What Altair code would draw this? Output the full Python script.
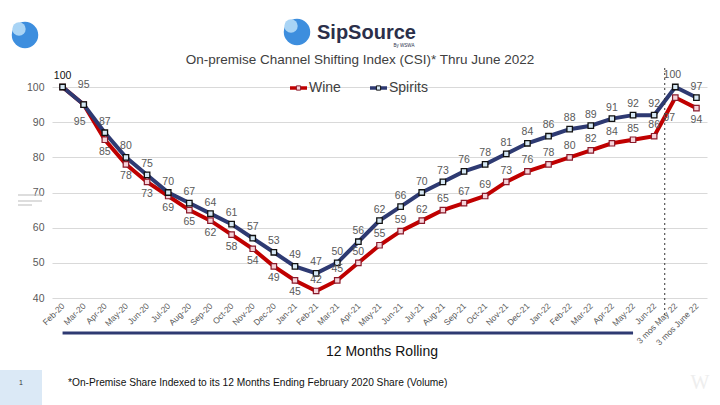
import altair as alt
import pandas as pd

months = ["Feb-20", "Mar-20", "Apr-20", "May-20", "Jun-20", "Jul-20", "Aug-20", "Sep-20",
          "Oct-20", "Nov-20", "Dec-20", "Jan-21", "Feb-21", "Mar-21", "Apr-21", "May-21",
          "Jun-21", "Jul-21", "Aug-21", "Sep-21", "Oct-21", "Nov-21", "Dec-21", "Jan-22",
          "Feb-22", "Mar-22", "Apr-22", "May-22", "Jun-22", "3 mos May 22", "3 mos June 22"]
spirits = [100, 95, 87, 80, 75, 70, 67, 64, 61, 57, 53, 49, 47, 50, 56, 62, 66, 70, 73, 76,
           78, 81, 84, 86, 88, 89, 91, 92, 92, 100, 97]
wine = [100, 95, 85, 78, 73, 69, 65, 62, 58, 54, 49, 45, 42, 45, 50, 55, 59, 62, 65, 67,
        69, 73, 76, 78, 80, 82, 84, 85, 86, 97, 94]
y_ticks = [40, 50, 60, 70, 80, 90, 100]

title_text = "On-premise Channel Shifting Index (CSI)* Thru June 2022"
footnote = "*On-Premise Share Indexed to its 12 Months Ending February 2020 Share (Volume)"
rolling_text = "12 Months Rolling"

idx = list(range(len(months)))
df_s = pd.DataFrame({"idx": idx, "month": months, "value": spirits})
df_w = pd.DataFrame({"idx": idx, "month": months, "value": wine})

NAVY = "#2E3A72"
RED = "#C00000"
GRAY = "#595959"
FONT = "Liberation Sans"

label_expr = "[" + ",".join("'" + m + "'" for m in months) + "][datum.value]"

xscale = alt.Scale(domain=[-0.5, len(months) - 0.5], nice=False, zero=False)
xaxis = alt.Axis(values=idx, labelExpr=label_expr, labelAngle=-45, labelAlign="right",
                 labelBaseline="middle", labelFontSize=8.5, labelColor=GRAY,
                 labelFont=FONT, grid=False, ticks=False, domain=False,
                 labelPadding=6, labelOverlap=False, labelBound=False, labelFlush=False)
xenc = alt.X("idx:Q", title=None, scale=xscale, axis=xaxis)
yenc = alt.Y("value:Q", title=None,
             scale=alt.Scale(domain=[40, 100], nice=False, zero=False),
             axis=alt.Axis(values=y_ticks, grid=True, gridColor="#d9d9d9", domain=False,
                           ticks=False, labelPadding=8, labelFontSize=10.5,
                           labelColor=GRAY, labelFont=FONT))

wine_line = alt.Chart(df_w).mark_line(color=RED, strokeWidth=4).encode(x=xenc, y=yenc)
spirits_line = alt.Chart(df_s).mark_line(color=NAVY, strokeWidth=4).encode(x=xenc, y=yenc)
wine_pts = alt.Chart(df_w).mark_square(size=30, fill="#f6d3da", stroke="#8b1a2a",
                                        strokeWidth=1.2, opacity=1).encode(x=xenc, y=yenc)
spirits_pts = alt.Chart(df_s).mark_square(size=30, fill="#d6e8f5", stroke="#111111",
                                           strokeWidth=1.3, opacity=1).encode(x=xenc, y=yenc)


def lbl(df, flt, dx, dy, color=GRAY, weight="normal"):
    return alt.Chart(df).transform_filter(flt).mark_text(
        dx=dx, dy=dy, fontSize=10.5, color=color, font=FONT, fontWeight=weight).encode(
        x=xenc, y=yenc, text="value:Q")


labels = [
    lbl(df_s, "datum.idx == 0", 0, -11, color="#111111"),
    lbl(df_s, "datum.idx == 1", 0, -20),
    lbl(df_s, "datum.idx >= 2 && datum.idx != 29", 0, -11),
    lbl(df_s, "datum.idx == 29", -3, -12),
    lbl(df_w, "datum.idx == 1", -4, 17),
    lbl(df_w, "(datum.idx >= 2 && datum.idx <= 11) || datum.idx == 30", 0, 12),
    lbl(df_w, "datum.idx == 29", -6, 20),
    lbl(df_w, "datum.idx >= 12 && datum.idx <= 28", 0, -11),
]

one = pd.DataFrame({"a": [0]})


def txt(text, x, y, size, color="#404040", align="center", weight="normal", font=FONT):
    return alt.Chart(one).mark_text(text=text, fontSize=size, color=color, align=align,
                                    baseline="middle", fontWeight=weight, font=font).encode(
        x=alt.value(x), y=alt.value(y))


def hline(x1, x2, y, color, width):
    return alt.Chart(one).mark_rule(color=color, strokeWidth=width).encode(
        x=alt.value(x1), x2=alt.value(x2), y=alt.value(y))


# dashed separator between monthly and 3-month data
sep = alt.Chart(pd.DataFrame({"pos": [28.5]})).mark_rule(
    color="#333333", strokeDash=[2, 3], strokeWidth=1).encode(
    x=alt.X("pos:Q", title=None, scale=xscale, axis=xaxis),
    y=alt.value(-19), y2=alt.value(229))

# 12 months rolling bar
roll = alt.Chart(pd.DataFrame({"a": [0], "b": [27]})).mark_rule(color=NAVY, strokeWidth=3).encode(
    x=alt.X("a:Q", title=None, scale=xscale, axis=xaxis),
    x2="b:Q", y=alt.value(246))

# legend
leg = [
    hline(238, 255, 1, RED, 3.5),
    alt.Chart(one).mark_square(size=18, fill="#f6d3da", stroke="#8b1a2a", strokeWidth=1, opacity=1).encode(
        x=alt.value(246.5), y=alt.value(1)),
    txt("Wine", 257, 1, 14, align="left"),
    hline(318, 335, 1, NAVY, 3.5),
    alt.Chart(one).mark_square(size=18, fill="#d6e8f5", stroke="#111111", strokeWidth=1, opacity=1).encode(
        x=alt.value(326.5), y=alt.value(1)),
    txt("Spirits", 337, 1, 14, align="left"),
]

# header / logos
logos = [
    alt.Chart(one).mark_circle(size=700, color="#3d8ede", opacity=1).encode(
        x=alt.value(-27), y=alt.value(-52)),
    alt.Chart(one).mark_circle(size=180, color="#a9d4f5", opacity=1).encode(
        x=alt.value(-33), y=alt.value(-58)),
    alt.Chart(one).mark_circle(size=700, color="#3d8ede", opacity=1).encode(
        x=alt.value(245), y=alt.value(-55)),
    alt.Chart(one).mark_circle(size=180, color="#a9d4f5", opacity=1).encode(
        x=alt.value(239), y=alt.value(-61)),
    txt("SipSource", 265, -54, 20, color="#2b2f4a", align="left", weight="bold"),
    txt("By WSWA", 352, -41, 4.5, color="#2b2f4a", align="center"),
    txt(title_text, 308, -27, 13.5, color="#404040"),
]

bottom = [
    txt(rolling_text, 330, 265, 14, color="#111111"),
    alt.Chart(one).mark_rect(color="#dbe9f6").encode(
        x=alt.value(-52), x2=alt.value(-10), y=alt.value(283), y2=alt.value(318)),
    txt("1", -31, 296, 7, color="#333333"),
    txt(footnote, 16, 296, 10.2, color="#111111", align="left"),
    txt("W", 648, 296, 20, color="#eeeeee", font="Liberation Serif"),
    hline(-34, -10, 108, "#bbbbbb", 1),
    hline(-34, -10, 114, "#bbbbbb", 1),
    hline(-34, -20, 118, "#bbbbbb", 1),
]

chart = alt.layer(
    wine_line, spirits_line, wine_pts, spirits_pts, *labels,
    sep, roll, *leg, *logos, *bottom
).properties(
    width=655, height=211,
    padding={"left": 52, "top": 87, "right": 13, "bottom": 107},
    autosize=alt.AutoSizeParams(type="none"),
    background="white",
).configure_view(stroke=None)

chart.save("out.html", embed_options={"renderer": "svg", "actions": False})
